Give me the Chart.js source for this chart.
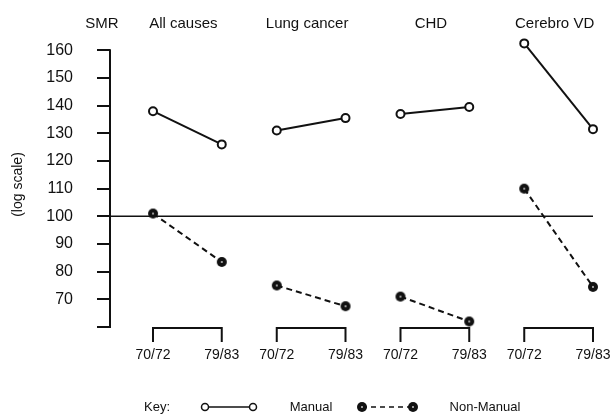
<!DOCTYPE html>
<html>
<head>
<meta charset="utf-8">
<script src="https://cdn.jsdelivr.net/npm/chart.js@4"></script>
<style>
  html, body { margin: 0; padding: 0; background: #fff; }
  canvas { display: block; }
</style>
</head>
<body>
<canvas id="smrChart" width="613" height="414"></canvas>
<script>
const causes = ['All causes', 'Lung cancer', 'CHD', 'Cerebro VD'];
const periods = ['70/72', '79/83'];
// SMR per cause, [70/72, 79/83]
const manual = [[138, 126], [131, 135.5], [137, 139.5], [162.5, 131.5]];
const nonManual = [[101, 83.5], [75, 67.5], [71, 62], [110, 74.5]];
const yTicks = [60, 70, 80, 90, 100, 110, 120, 130, 140, 150, 160];
const refLevel = 100;

const ink = '#111';
const font = '"Liberation Sans", Arial, sans-serif';
const panelStep = 1.8;                 // x units from one panel to the next
const xPos = (i, j) => i * panelStep + j;
const xMin = -0.6255, xMax = 6.5455;

// dark dot with a light speck, like the printed symbol
function darkDot(r) {
  const c = document.createElement('canvas');
  c.width = c.height = 2 * r + 2;
  const g = c.getContext('2d');
  g.fillStyle = ink;
  g.beginPath(); g.arc(r + 1, r + 1, r, 0, Math.PI * 2); g.fill();
  g.fillStyle = '#999';
  g.fillRect(r, r, 2, 2);
  return c;
}
const nmDot = darkDot(5);

const datasets = [{
  data: [{x: xMin, y: refLevel}, {x: xPos(3, 1), y: refLevel}],
  showLine: true, borderColor: ink, borderWidth: 1.5, pointRadius: 0, order: 10
}];
causes.forEach((c, i) => {
  datasets.push({
    label: c + ' manual',
    data: periods.map((p, j) => ({x: xPos(i, j), y: manual[i][j]})),
    showLine: true, borderColor: ink, borderWidth: 2,
    pointRadius: 4, pointBackgroundColor: '#fff', pointBorderColor: ink, pointBorderWidth: 2,
    clip: false, order: 1
  });
  datasets.push({
    label: c + ' non-manual',
    data: periods.map((p, j) => ({x: xPos(i, j), y: nonManual[i][j]})),
    showLine: true, borderColor: ink, borderWidth: 2, borderDash: [6, 4],
    pointStyle: nmDot, pointRadius: 5,
    clip: false, order: 1
  });
});

const annotate = {
  id: 'annotate',
  beforeDatasetsDraw(chart) {
    // y axis line only from the lowest to the highest tick
    const {ctx, chartArea, scales: {y}} = chart;
    ctx.save();
    ctx.strokeStyle = ink;
    ctx.lineWidth = 2;
    ctx.beginPath();
    ctx.moveTo(chartArea.left, y.getPixelForValue(yTicks[yTicks.length - 1]) - 1);
    ctx.lineTo(chartArea.left, y.getPixelForValue(yTicks[0]) + 1);
    ctx.stroke();
    ctx.restore();
  },
  afterDraw(chart) {
    const {ctx, chartArea, scales: {x}} = chart;
    const px = (i, j) => x.getPixelForValue(xPos(i, j));
    ctx.save();
    ctx.fillStyle = ink;
    ctx.strokeStyle = ink;
    ctx.textAlign = 'center';
    ctx.textBaseline = 'middle';

    ctx.font = '15px ' + font;
    ctx.fillText('SMR', chartArea.left - 8, 24);
    causes.forEach((c, i) => ctx.fillText(c, (px(i, 0) + px(i, 1)) / 2 - 4, 24));

    // period brackets under each panel
    const top = chartArea.bottom + 1, foot = top + 14;
    ctx.lineWidth = 2;
    ctx.font = '14px ' + font;
    causes.forEach((c, i) => {
      ctx.beginPath();
      ctx.moveTo(px(i, 0), foot);
      ctx.lineTo(px(i, 0), top);
      ctx.lineTo(px(i, 1), top);
      ctx.lineTo(px(i, 1), foot);
      ctx.stroke();
      periods.forEach((p, j) => ctx.fillText(p, px(i, j), foot + 13));
    });

    // key
    const ky = 407;
    ctx.font = '13px ' + font;
    ctx.fillText('Key:', 157, ky);
    ctx.fillText('Manual', 311, ky);
    ctx.fillText('Non-Manual', 485, ky);
    ctx.lineWidth = 1.5;
    ctx.beginPath(); ctx.moveTo(205, ky); ctx.lineTo(253, ky); ctx.stroke();
    ctx.fillStyle = '#fff';
    [205, 253].forEach(cx => {
      ctx.beginPath(); ctx.arc(cx, ky, 3.5, 0, Math.PI * 2); ctx.fill(); ctx.stroke();
    });
    ctx.setLineDash([5, 4]);
    ctx.beginPath(); ctx.moveTo(362, ky); ctx.lineTo(413, ky); ctx.stroke();
    ctx.setLineDash([]);
    [362, 413].forEach(cx => ctx.drawImage(nmDot, cx - 6, ky - 6));
    ctx.restore();
  }
};

new Chart(document.getElementById('smrChart').getContext('2d'), {
  type: 'scatter',
  data: {datasets},
  options: {
    responsive: false,
    devicePixelRatio: 1,
    animation: false,
    layout: {padding: {left: 10, right: 10, top: 42, bottom: 87}},
    plugins: {legend: {display: false}, tooltip: {enabled: false}},
    scales: {
      x: {type: 'linear', min: xMin, max: xMax, display: false},
      y: {
        type: 'linear', min: 60, max: 163,
        afterBuildTicks: s => { s.ticks = yTicks.map(v => ({value: v})); },
        afterFit: s => { s.width = 100; },
        border: {display: false},
        grid: {drawOnChartArea: false, tickLength: 13, color: ink, lineWidth: 2},
        ticks: {
          padding: 24, color: ink, font: {size: 16, family: font},
          callback: v => (v === 60 ? '' : v)
        },
        title: {
          display: true, text: '(log scale)', color: ink,
          font: {size: 14, family: font}, padding: {top: 0, bottom: 0}
        }
      }
    }
  },
  plugins: [annotate]
});
</script>
</body>
</html>
